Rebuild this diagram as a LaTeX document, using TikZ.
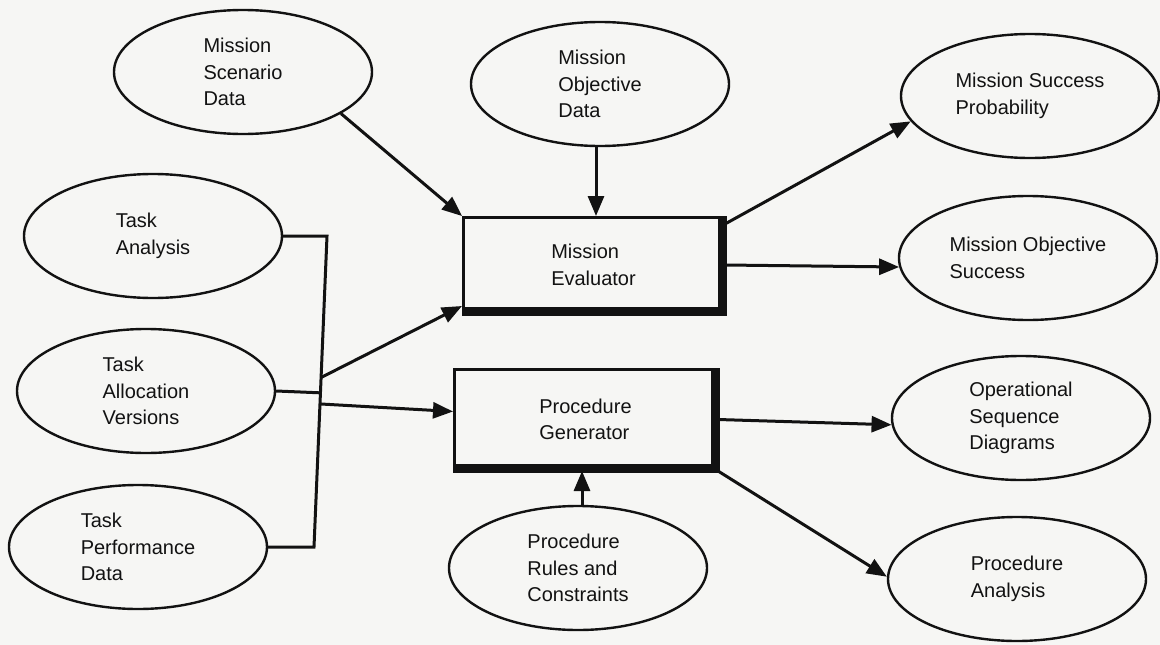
\documentclass[tikz,border=0pt]{standalone}
\usepackage{fontspec}
\setmainfont{Liberation Sans}
\usetikzlibrary{arrows.meta,shapes.geometric,calc}
\definecolor{paper}{RGB}{246,246,244}
\definecolor{ink}{RGB}{18,18,18}
\begin{document}
\begin{tikzpicture}[x=1pt,y=-1pt,
  every node/.style={font=\fontsize{20}{26.5}\selectfont, text=ink},
  oval/.style={ellipse, draw=ink, line width=2.4pt, minimum width=258pt,
               minimum height=124pt, inner sep=0pt, align=left},
  procbox/.style={rectangle, draw=ink, line width=3pt, inner sep=0pt, align=left},
  link/.style={draw=ink, line width=3pt},
  flow/.style={link, -{Triangle[length=20pt,width=16pt]}},
  heavy/.style={draw=ink, line width=9pt}]
\fill[paper] (0,0) rectangle (1160,645);
\useasboundingbox (0,0) rectangle (1160,645);

% data sources
\node[oval] (msd) at (243,72)  {Mission\\Scenario\\Data};
\node[oval] (mod) at (600,84)  {Mission\\Objective\\Data};
\node[oval] (ta)  at (153,236) {Task\\Analysis};
\node[oval] (tav) at (146,391) {Task\\Allocation\\Versions};
\node[oval] (tpd) at (138,547) {Task\\Performance\\Data};
\node[oval] (prc) at (578,568) {Procedure\\Rules and\\Constraints};

% outputs
\node[oval] (msp) at (1030,96)  {Mission Success\\Probability};
\node[oval] (mos) at (1028,258) {Mission Objective\\Success};
\node[oval] (osd) at (1021,418) {Operational\\Sequence\\Diagrams};
\node[oval] (pa)  at (1017,579) {Procedure\\Analysis};

% processing blocks with heavy lower/right edges
\node[procbox, minimum width=260pt, minimum height=95pt]  (ev) at (593.5,265)   {Mission\\Evaluator};
\node[procbox, minimum width=262pt, minimum height=100pt] (pg) at (585.5,419.5) {Procedure\\Generator};
\foreach \b in {ev,pg}
  \draw[heavy] ([xshift=-3pt]\b.north east) -- ([xshift=-3pt,yshift=3pt]\b.south east)
               -- ([yshift=3pt]\b.south west);

% task bus
\coordinate (bt) at (327,236);
\coordinate (bb) at (314,547);
\draw[link] (ta.east) -- (bt) -- (bb) -- (tpd.east);
\draw[link] (tav.east) -- ($(bt)!(tav.east)!(bb)$);
\draw[flow] ($(bt)!0.455!(bb)$) -- ([yshift=8pt]ev.south west);
\draw[flow] ($(bt)!0.54!(bb)$) -- ([yshift=8pt]pg.west);

% inputs to the evaluator and generator
\draw[flow] (msd.-23) -- (ev.north west);
\draw[flow] ([xshift=-4pt]mod.south) -- ([xshift=-4pt]mod.south |- ev.north);
\draw[flow] ([xshift=4pt]prc.north) -- ([xshift=4pt]prc.north |- pg.south);

% outputs
\draw[flow] ([yshift=-8pt]ev.north east) -- (msp.192);
\draw[flow] (ev.east) -- (mos.184);
\draw[flow] (pg.east) -- (osd.183);
\draw[flow] (pg.south east) -- (pa.179);
\end{tikzpicture}
\end{document}
